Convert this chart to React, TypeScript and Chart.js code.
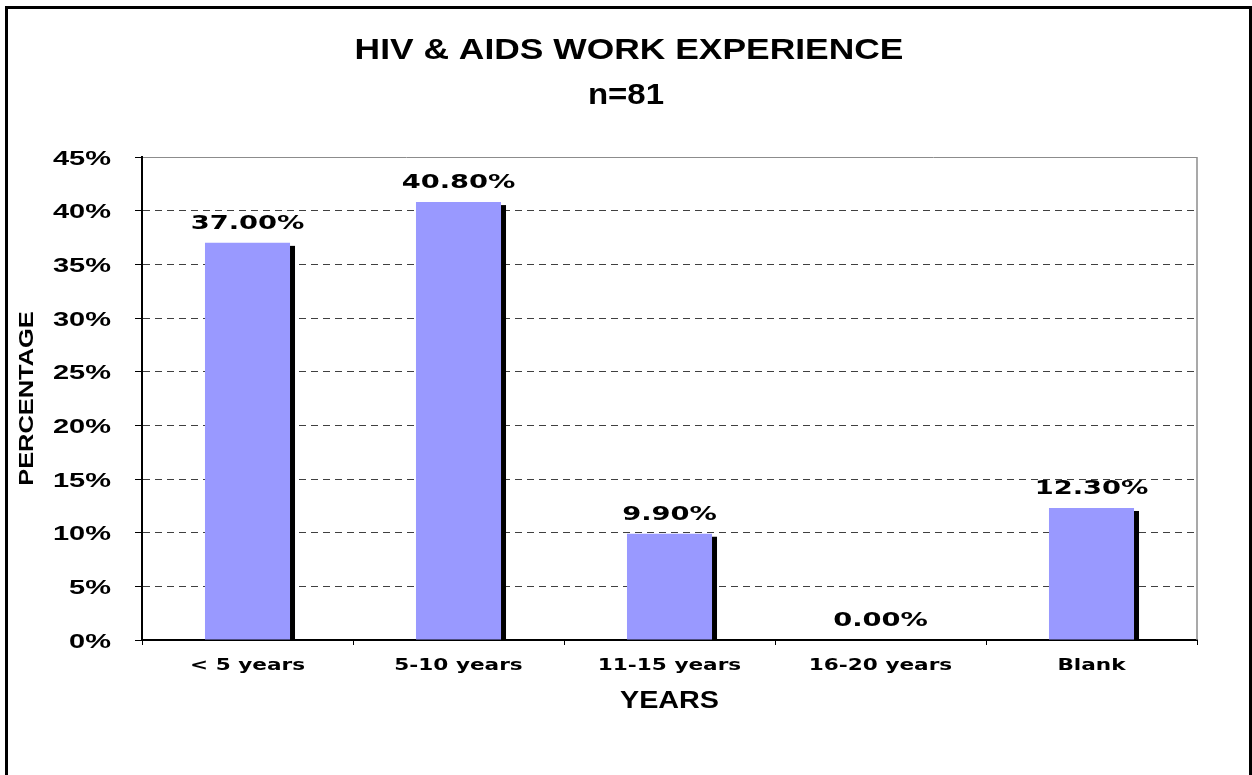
import React, { useEffect, useRef } from "react";
import { Chart, registerables } from "chart.js";

Chart.register(...registerables);

const categories = ["< 5 years", "5-10 years", "11-15 years", "16-20 years", "Blank"];
const percentages = [37.0, 40.8, 9.9, 0.0, 12.3];
const titleLines = ["HIV & AIDS WORK EXPERIENCE", "n=81"];
const xAxisTitle = "YEARS";
const yAxisTitle = "PERCENTAGE";
const yMax = 45;
const yStep = 5;

const ARIAL = "'Liberation Sans', Arial, sans-serif";
const VERDANA = "'DejaVu Sans', Verdana, sans-serif";

function drawText(
  ctx: CanvasRenderingContext2D,
  text: string,
  x: number,
  y: number,
  font: string,
  sx: number,
  align: CanvasTextAlign = "center",
  rotate = 0
) {
  ctx.save();
  ctx.translate(x, y);
  if (rotate) ctx.rotate(rotate);
  ctx.scale(sx, 1);
  ctx.font = font;
  ctx.textAlign = align;
  ctx.textBaseline = "alphabetic";
  ctx.fillStyle = "#000";
  ctx.fillText(text, 0, 0);
  ctx.restore();
}

const decorPlugin = {
  id: "decor",
  beforeDatasetsDraw(chart: any) {
    const { ctx, chartArea } = chart;
    ctx.save();
    // right plot border
    ctx.strokeStyle = "#8c8c8c";
    ctx.lineWidth = 1.5;
    ctx.beginPath();
    ctx.moveTo(chartArea.right, chartArea.top);
    ctx.lineTo(chartArea.right, chartArea.bottom);
    ctx.stroke();
    // bar shadows
    const meta = chart.getDatasetMeta(0);
    ctx.fillStyle = "#000";
    meta.data.forEach((bar: any) => {
      const { x, y, base, width } = bar.getProps(["x", "y", "base", "width"], true);
      const h = base - y - 3;
      if (h <= 0) return;
      ctx.fillRect(x - width / 2 + 5, y + 3, width, h);
    });
    ctx.restore();
  },
  afterDraw(chart: any) {
    const { ctx, chartArea, scales } = chart;
    const cw = chart.width;
    ctx.save();
    // outer frame
    ctx.strokeStyle = "#000";
    ctx.lineWidth = 3;
    ctx.strokeRect(6.5, 7.5, cw - 8, 850);

    // titles
    drawText(ctx, titleLines[0], cw / 2 + 3, 59, `bold 30px ${ARIAL}`, 1.18);
    drawText(ctx, titleLines[1], cw / 2, 104, `bold 30px ${ARIAL}`, 1.1);

    // y tick labels
    const ys = scales.y;
    ys.ticks.forEach((t: any) => {
      const py = ys.getPixelForValue(t.value);
      drawText(ctx, `${t.value}%`, 111, py + 7.5, `bold 21px ${ARIAL}`, 1.38, "right");
    });

    // x tick labels
    const xs = scales.x;
    categories.forEach((c, i) => {
      const px = xs.getPixelForValue(i);
      drawText(ctx, c, px, 670, `bold 16px ${VERDANA}`, 1.35);
    });

    // data labels
    const meta = chart.getDatasetMeta(0);
    meta.data.forEach((bar: any, i: number) => {
      const { x, y } = bar.getProps(["x", "y"], true);
      drawText(ctx, `${percentages[i].toFixed(2)}%`, x, y - 14, `bold 19.5px ${VERDANA}`, 1.4);
    });

    // axis titles
    drawText(ctx, xAxisTitle, (chartArea.left + chartArea.right) / 2, 708, `bold 23px ${ARIAL}`, 1.25);
    drawText(
      ctx,
      yAxisTitle,
      33,
      (chartArea.top + chartArea.bottom) / 2,
      `bold 21px ${ARIAL}`,
      1.21,
      "center",
      -Math.PI / 2
    );
    ctx.restore();
  },
};

export default function App() {
  const ref = useRef<HTMLCanvasElement | null>(null);

  useEffect(() => {
    document.body.style.margin = "0";
    const canvas = ref.current;
    if (!canvas) return;
    const chart = new Chart(canvas, {
      type: "bar",
      data: {
        labels: categories,
        datasets: [
          {
            data: percentages,
            backgroundColor: "#9999FF",
            borderWidth: 0,
            categoryPercentage: 1,
            barPercentage: 0.403,
          },
        ],
      },
      options: {
        responsive: false,
        animation: false,
        devicePixelRatio: 1,
        layout: { padding: { left: 135, right: 55, top: 157, bottom: 130 } },
        plugins: {
          legend: { display: false },
          title: { display: false },
          tooltip: { enabled: false },
        },
        scales: {
          x: {
            type: "category",
            ticks: { display: false },
            grid: {
              display: true,
              drawOnChartArea: false,
              drawTicks: true,
              tickLength: 5,
              color: "#000",
              tickColor: "#000",
              offset: true,
            },
            border: { display: true, color: "#000", width: 2 },
          },
          y: {
            min: 0,
            max: yMax,
            ticks: { display: false, stepSize: yStep },
            grid: {
              display: true,
              drawTicks: true,
              tickLength: 7,
              lineWidth: 1,
              color: (c: any) =>
                c.tick && c.tick.value === yMax ? "#8c8c8c" : c.tick && c.tick.value === 0 ? "#000" : "#404040",
              tickColor: "#000",
              tickBorderDash: [],
            },
            border: {
              display: true,
              color: "#000",
              width: 2,
              dash: (c: any) =>
                c.tick && c.tick.value !== 0 && c.tick.value !== yMax ? [7, 5] : [],
            },
          },
        },
      },
      plugins: [decorPlugin],
    } as any);
    return () => chart.destroy();
  }, []);

  return <canvas ref={ref} width={1252} height={775} style={{ display: "block" }} />;
}
